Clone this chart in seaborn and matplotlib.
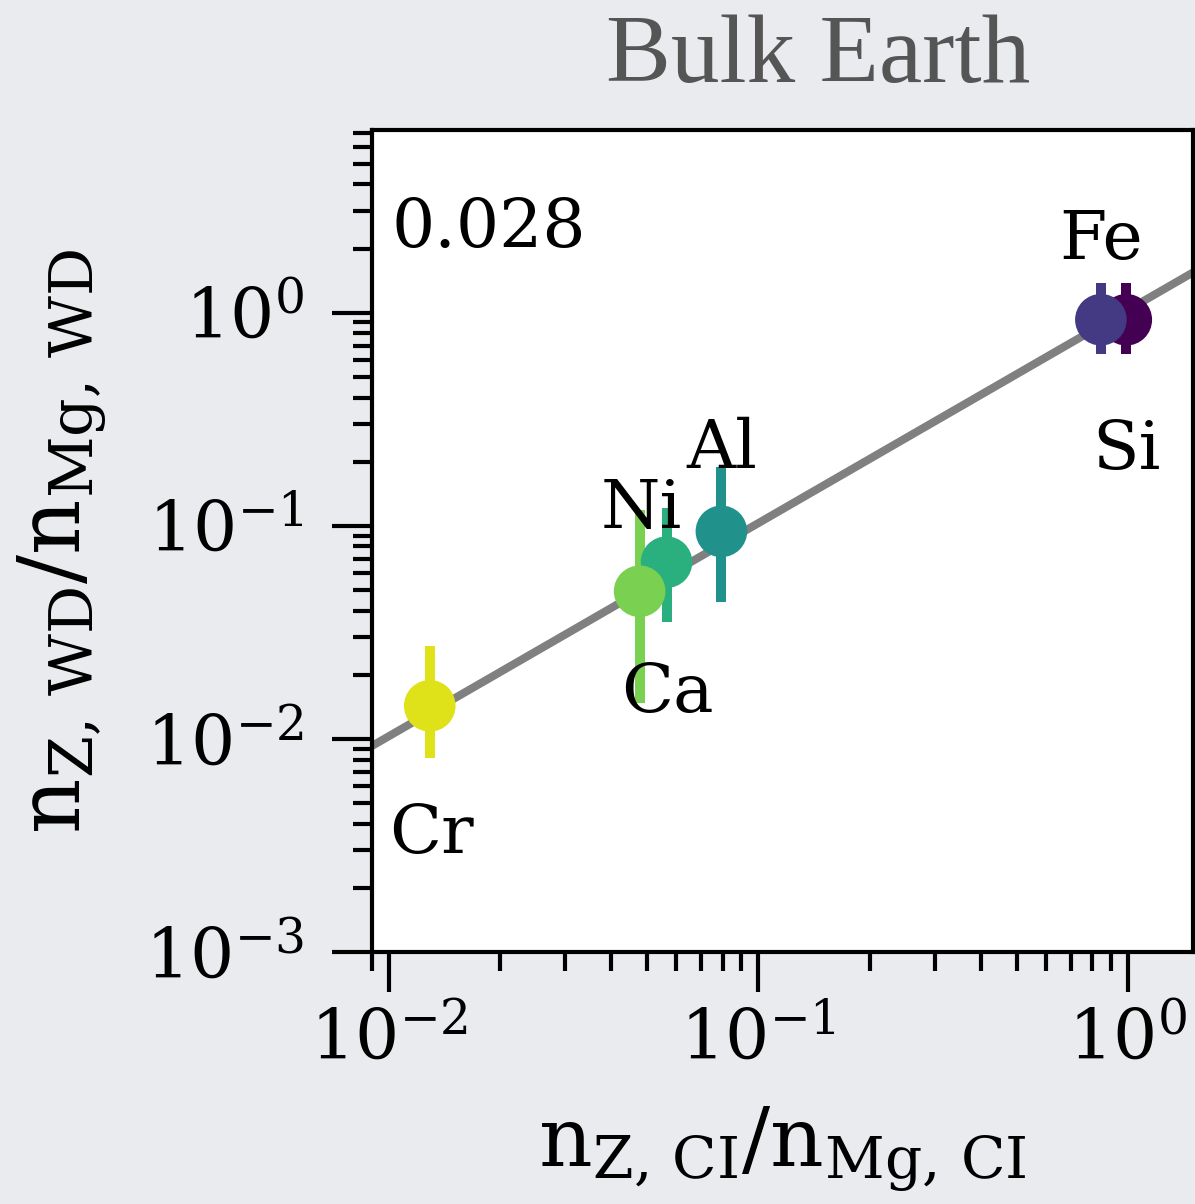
import numpy as np
import pandas as pd
import matplotlib
matplotlib.use("Agg")
import matplotlib.pyplot as plt
import matplotlib.ticker as mticker
import seaborn as sns

# Element abundance ratios relative to Mg: CI chondrite (x) vs white dwarf (y)
elements = ["Si", "Fe", "Al", "Ni", "Ca", "Cr"]
ratio_ci = [0.99, 0.845, 0.0794, 0.0564, 0.0477, 0.0129]
ratio_wd = [0.927, 0.927, 0.0942, 0.0675, 0.0493, 0.0143]
wd_low = [0.643, 0.643, 0.0438, 0.0353, 0.0147, 0.00815]
wd_high = [1.38, 1.38, 0.188, 0.121, 0.118, 0.0273]
colors = ["#440154", "#443983", "#21918c", "#2ab07f", "#7ad151", "#dfe218"]

# Label placement (offset in pixels from each point, label baseline)
label_dx = [0, 0, 0, -25, 28, 2]
label_dy = [-149, 61, 63, 34, -121, -147]

# Reference scaling relation: WD ratio = scale * CI ratio
line_scale = 1.03
scale_text = "0.028"
line_x = [0.005, 3.0]

df = pd.DataFrame({"element": elements, "ci": ratio_ci, "wd": ratio_wd,
                   "lo": wd_low, "hi": wd_high})

sns.set_theme(style="ticks")
plt.rcParams["font.family"] = ["DejaVu Serif", "DejaVu Sans"]
plt.rcParams["mathtext.fontset"] = "dejavuserif"
plt.rcParams["text.color"] = "black"
plt.rcParams["axes.labelcolor"] = "black"
plt.rcParams["xtick.color"] = "black"
plt.rcParams["ytick.color"] = "black"

bg = "#e9ebee"
fig = plt.figure(figsize=(11.95, 12.04), dpi=100, facecolor=bg)
ax = fig.add_axes([0.3113, 0.2093, 0.6870, 0.6827])
ax.set_facecolor("white")

ax.set_xscale("log")
ax.set_yscale("log")
ax.set_xlim(0.009, 1.5)
ax.set_ylim(1e-3, 7.2)

# scaling line
line_df = pd.DataFrame({"x": line_x, "y": [v * line_scale for v in line_x]})
sns.lineplot(data=line_df, x="x", y="y", ax=ax, color="#808080", lw=5.8,
             zorder=1, legend=False)

# error bars
for i, row in df.iterrows():
    ax.errorbar(row["ci"], row["wd"],
                yerr=[[row["wd"] - row["lo"]], [row["hi"] - row["wd"]]],
                fmt="none", ecolor=colors[i], elinewidth=7.2, capsize=0,
                zorder=2)

# markers
sns.scatterplot(data=df, x="ci", y="wd", hue="element", palette=colors,
                hue_order=elements, s=1380, linewidth=0, ax=ax, zorder=3,
                legend=False, alpha=1)

for i, row in df.iterrows():
    ax.annotate(row["element"], (row["ci"], row["wd"]),
                xytext=(label_dx[i], label_dy[i]), textcoords="offset pixels",
                ha="center", va="baseline", fontsize=49, color="black",
                zorder=4)

ax.text(0.024, 0.92, scale_text, transform=ax.transAxes, ha="left", va="top",
        fontsize=49, color="black")

# spines and ticks
for side in ["left", "right", "top", "bottom"]:
    ax.spines[side].set_visible(True)
    ax.spines[side].set_linewidth(3)
    ax.spines[side].set_color("black")

ax.yaxis.set_major_locator(mticker.LogLocator(base=10, numticks=10))
ax.yaxis.set_minor_locator(mticker.LogLocator(base=10, subs=np.arange(2, 10),
                                              numticks=20))
ax.xaxis.set_major_locator(mticker.LogLocator(base=10, numticks=10))
ax.xaxis.set_minor_locator(mticker.LogLocator(base=10, subs=np.arange(2, 10),
                                              numticks=20))
ax.yaxis.set_minor_formatter(mticker.NullFormatter())
ax.xaxis.set_minor_formatter(mticker.NullFormatter())

ax.tick_params(axis="both", which="major", direction="out", length=29,
               width=3, labelsize=50, color="black", labelcolor="black")
ax.tick_params(axis="both", which="minor", direction="out", length=14,
               width=3, color="black")
ax.tick_params(axis="y", which="major", pad=20)
ax.tick_params(axis="x", which="major", pad=11)
ax.tick_params(top=False, right=False, which="both")

ax.set_xlabel(r"$\mathrm{n}_{\mathrm{Z,\,CI}}/\mathrm{n}_{\mathrm{Mg,\,CI}}$",
              fontsize=60, labelpad=22, color="black")
ax.set_ylabel(r"$\mathrm{n}_{\mathrm{Z,\,WD}}/\mathrm{n}_{\mathrm{Mg,\,WD}}$",
              fontsize=62, labelpad=26, color="black")

fig.text(818 / 1195, 1 - 82 / 1204, "Bulk Earth", ha="center", va="baseline",
         fontsize=70, color="#555555", family=["Liberation Serif"])

fig.savefig("out.png", dpi=100, facecolor=bg)
